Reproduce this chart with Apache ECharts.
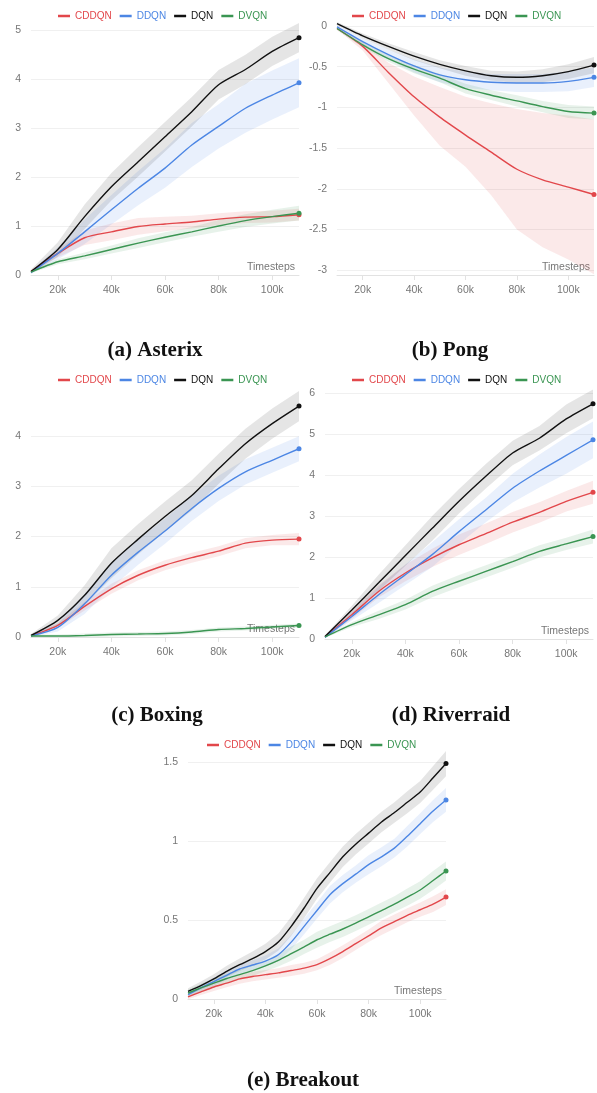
<!DOCTYPE html>
<html><head><meta charset="utf-8">
<script src="https://cdn.jsdelivr.net/npm/echarts@6/dist/echarts.min.js"></script>
<style>html,body{margin:0;padding:0;background:#fff}#c{width:597px;height:1093px}</style>
</head><body><div id="c"></div>
<script>
const methods = ['CDDQN', 'DDQN', 'DQN', 'DVQN'];
const xTickValues = [20000, 40000, 60000, 80000, 100000];
const steps = [10000, 20000, 30000, 40000, 50000, 60000, 70000, 80000, 90000, 100000, 110000];
const breakoutSteps = [10000, 15000, 20000, 25000, 30000, 35000, 40000, 45000, 50000, 55000, 60000,
  65000, 70000, 75000, 80000, 85000, 90000, 95000, 100000, 105000, 110000];

// (a) Asterix
const asterixYTicks = [0, 1, 2, 3, 4, 5];
const asterixCDDQN = [0.07, 0.44, 0.76, 0.88, 0.99, 1.04, 1.08, 1.14, 1.18, 1.19, 1.23];
const asterixCDDQNSpread = [0.03, 0.08, 0.15, 0.17, 0.17, 0.15, 0.13, 0.12, 0.12, 0.12, 0.12];
const asterixDDQN = [0.05, 0.44, 0.88, 1.33, 1.77, 2.18, 2.65, 3.03, 3.40, 3.67, 3.92];
const asterixDDQNSpread = [0.03, 0.12, 0.25, 0.3, 0.35, 0.4, 0.45, 0.45, 0.5, 0.5, 0.5];
const asterixDQN = [0.07, 0.52, 1.19, 1.80, 2.31, 2.82, 3.33, 3.88, 4.19, 4.56, 4.84];
const asterixDQNSpread = [0.04, 0.15, 0.25, 0.28, 0.3, 0.3, 0.3, 0.3, 0.3, 0.3, 0.3];
const asterixDVQN = [0.06, 0.27, 0.39, 0.52, 0.65, 0.77, 0.88, 1.0, 1.11, 1.19, 1.26];
const asterixDVQNSpread = [0.02, 0.05, 0.07, 0.08, 0.1, 0.1, 0.1, 0.12, 0.13, 0.14, 0.15];

// (b) Pong
const pongYTicks = [-3, -2.5, -2, -1.5, -1, -0.5, 0];
const pongCDDQN = [-0.03, -0.25, -0.57, -0.87, -1.12, -1.34, -1.55, -1.76, -1.89, -1.98, -2.07];
const pongCDDQNLow = [-0.04, -0.3, -0.7, -1.1, -1.47, -1.73, -2.08, -2.5, -2.72, -2.87, -3.05];
const pongCDDQNHigh = [-0.02, -0.2, -0.45, -0.62, -0.75, -0.87, -0.95, -1.02, -1.07, -1.1, -1.15];
const pongDDQN = [-0.01, -0.19, -0.35, -0.49, -0.60, -0.66, -0.69, -0.70, -0.70, -0.68, -0.63];
const pongDDQNSpread = [0.02, 0.04, 0.06, 0.08, 0.09, 0.1, 0.1, 0.11, 0.11, 0.12, 0.12];
const pongDQN = [0.03, -0.12, -0.25, -0.37, -0.47, -0.55, -0.61, -0.63, -0.61, -0.56, -0.48];
const pongDQNSpread = [0.02, 0.03, 0.04, 0.05, 0.05, 0.06, 0.06, 0.07, 0.08, 0.09, 0.1];
const pongDVQN = [-0.03, -0.23, -0.40, -0.53, -0.64, -0.77, -0.85, -0.92, -0.99, -1.05, -1.07];
const pongDVQNSpread = [0.02, 0.03, 0.04, 0.05, 0.05, 0.06, 0.06, 0.07, 0.07, 0.08, 0.08];

// (c) Boxing
const boxingYTicks = [0, 1, 2, 3, 4];
const boxingCDDQN = [0.02, 0.23, 0.61, 0.96, 1.23, 1.43, 1.58, 1.71, 1.87, 1.93, 1.95];
const boxingCDDQNSpread = [0.02, 0.05, 0.08, 0.1, 0.1, 0.1, 0.1, 0.1, 0.1, 0.1, 0.12];
const boxingDDQN = [0.02, 0.19, 0.66, 1.23, 1.69, 2.11, 2.56, 2.96, 3.29, 3.52, 3.75];
const boxingDDQNSpread = [0.02, 0.08, 0.2, 0.25, 0.25, 0.25, 0.25, 0.25, 0.25, 0.25, 0.25];
const boxingDQN = [0.03, 0.33, 0.83, 1.47, 1.95, 2.40, 2.82, 3.35, 3.85, 4.25, 4.60];
const boxingDQNSpread = [0.03, 0.1, 0.2, 0.3, 0.3, 0.3, 0.3, 0.3, 0.3, 0.3, 0.3];
const boxingDVQN = [0.02, 0.02, 0.03, 0.05, 0.06, 0.07, 0.10, 0.15, 0.17, 0.20, 0.23];
const boxingDVQNSpread = [0.03, 0.03, 0.04, 0.04, 0.04, 0.04, 0.04, 0.04, 0.04, 0.04, 0.04];

// (d) Riverraid
const riverraidYTicks = [0, 1, 2, 3, 4, 5, 6];
const riverraidCDDQN = [0.05, 0.59, 1.16, 1.61, 1.98, 2.30, 2.57, 2.85, 3.09, 3.36, 3.58];
const riverraidCDDQNSpread = [0.03, 0.1, 0.15, 0.2, 0.22, 0.25, 0.25, 0.25, 0.25, 0.25, 0.28];
const riverraidDDQN = [0.04, 0.55, 1.08, 1.57, 2.06, 2.62, 3.15, 3.68, 4.10, 4.48, 4.86];
const riverraidDDQNSpread = [0.02, 0.1, 0.2, 0.25, 0.3, 0.3, 0.3, 0.35, 0.4, 0.45, 0.45];
const riverraidDQN = [0.06, 0.71, 1.37, 2.04, 2.70, 3.36, 3.97, 4.54, 4.90, 5.37, 5.74];
const riverraidDQNSpread = [0.03, 0.1, 0.2, 0.25, 0.3, 0.3, 0.3, 0.3, 0.3, 0.35, 0.35];
const riverraidDVQN = [0.05, 0.35, 0.59, 0.84, 1.16, 1.41, 1.65, 1.89, 2.14, 2.32, 2.50];
const riverraidDVQNSpread = [0.02, 0.06, 0.1, 0.12, 0.14, 0.15, 0.15, 0.15, 0.15, 0.15, 0.17];

// (e) Breakout
const breakoutYTicks = [0, 0.5, 1, 1.5];
const breakoutCDDQN = [0.013, 0.045, 0.076, 0.10, 0.127, 0.142, 0.154, 0.165, 0.18, 0.195, 0.217,
  0.255, 0.30, 0.35, 0.40, 0.45, 0.49, 0.53, 0.565, 0.60, 0.645];
const breakoutCDDQNSpread = [0.015, 0.02, 0.025, 0.025, 0.03, 0.03, 0.03, 0.03, 0.035, 0.035, 0.035,
  0.04, 0.04, 0.04, 0.04, 0.045, 0.045, 0.045, 0.045, 0.05, 0.05];
const breakoutDDQN = [0.027, 0.07, 0.11, 0.15, 0.19, 0.215, 0.24, 0.28, 0.36, 0.46, 0.56,
  0.66, 0.73, 0.79, 0.85, 0.90, 0.955, 1.03, 1.11, 1.19, 1.26];
const breakoutDDQNSpread = [0.015, 0.02, 0.025, 0.03, 0.03, 0.03, 0.035, 0.04, 0.045, 0.05, 0.05,
  0.055, 0.055, 0.055, 0.06, 0.06, 0.06, 0.065, 0.065, 0.07, 0.075];
const breakoutDQN = [0.048, 0.085, 0.127, 0.175, 0.217, 0.255, 0.30, 0.36, 0.46, 0.576, 0.70,
  0.80, 0.90, 0.98, 1.05, 1.12, 1.18, 1.245, 1.31, 1.40, 1.49];
const breakoutDQNSpread = [0.02, 0.025, 0.03, 0.035, 0.04, 0.045, 0.05, 0.055, 0.06, 0.065, 0.065,
  0.065, 0.065, 0.065, 0.065, 0.065, 0.065, 0.07, 0.07, 0.075, 0.08];
const breakoutDVQN = [0.038, 0.07, 0.10, 0.13, 0.154, 0.18, 0.21, 0.245, 0.287, 0.33, 0.375,
  0.41, 0.443, 0.48, 0.52, 0.56, 0.60, 0.645, 0.69, 0.75, 0.81];
const breakoutDVQNSpread = [0.02, 0.025, 0.03, 0.03, 0.03, 0.035, 0.035, 0.04, 0.045, 0.045, 0.05,
  0.05, 0.05, 0.05, 0.05, 0.05, 0.05, 0.055, 0.055, 0.06, 0.06];

// ---- styling / layout ----
const colors = { CDDQN: '#e2474b', DDQN: '#4c86e4', DQN: '#111111', DVQN: '#3a9552' };
const bandColors = {
  CDDQN: 'rgba(226,71,75,0.12)', DDQN: 'rgba(76,134,228,0.12)',
  DQN: 'rgba(0,0,0,0.10)', DVQN: 'rgba(58,149,82,0.12)'
};
const sansFont = "'Liberation Sans', Arial, sans-serif";
const serifFont = "'Liberation Serif', 'DejaVu Serif', serif";

const sym = (mean, spread) => ({ mean, low: mean.map((v, j) => v - spread[j]), high: mean.map((v, j) => v + spread[j]) });

const panels = [
  { caption: '(a) Asterix', cx: 155, cy: 351, steps, yTicks: asterixYTicks, yMin: 0, yMax: 5.2,
    grid: { left: 31, top: 20, width: 268, height: 255 }, legend: { left: 53, top: 6 },
    data: { CDDQN: sym(asterixCDDQN, asterixCDDQNSpread), DDQN: sym(asterixDDQN, asterixDDQNSpread),
            DQN: sym(asterixDQN, asterixDQNSpread), DVQN: sym(asterixDVQN, asterixDVQNSpread) } },
  { caption: '(b) Pong', cx: 450, cy: 351, steps, yTicks: pongYTicks, yMin: -3.06, yMax: 0.05,
    grid: { left: 337, top: 22, width: 257, height: 253 }, legend: { left: 347, top: 6 },
    data: { CDDQN: { mean: pongCDDQN, low: pongCDDQNLow, high: pongCDDQNHigh }, DDQN: sym(pongDDQN, pongDDQNSpread),
            DQN: sym(pongDQN, pongDQNSpread), DVQN: sym(pongDVQN, pongDVQNSpread) } },
  { caption: '(c) Boxing', cx: 157, cy: 716, steps, yTicks: boxingYTicks, yMin: 0, yMax: 4.98,
    grid: { left: 31, top: 387, width: 268, height: 250 }, legend: { left: 53, top: 370 },
    data: { CDDQN: sym(boxingCDDQN, boxingCDDQNSpread), DDQN: sym(boxingDDQN, boxingDDQNSpread),
            DQN: sym(boxingDQN, boxingDQNSpread), DVQN: sym(boxingDVQN, boxingDVQNSpread) } },
  { caption: '(d) Riverraid', cx: 451, cy: 716, steps, yTicks: riverraidYTicks, yMin: 0, yMax: 6.15,
    grid: { left: 325, top: 387, width: 268, height: 252 }, legend: { left: 347, top: 370 },
    data: { CDDQN: sym(riverraidCDDQN, riverraidCDDQNSpread), DDQN: sym(riverraidDDQN, riverraidDDQNSpread),
            DQN: sym(riverraidDQN, riverraidDQNSpread), DVQN: sym(riverraidDVQN, riverraidDVQNSpread) } },
  { caption: '(e) Breakout', cx: 303, cy: 1081, steps: breakoutSteps, yTicks: breakoutYTicks, yMin: 0, yMax: 1.576,
    grid: { left: 188, top: 750, width: 258, height: 249 }, legend: { left: 202, top: 735 },
    data: { CDDQN: sym(breakoutCDDQN, breakoutCDDQNSpread), DDQN: sym(breakoutDDQN, breakoutDDQNSpread),
            DQN: sym(breakoutDQN, breakoutDQNSpread), DVQN: sym(breakoutDVQN, breakoutDVQNSpread) } }
];

const option = { animation: false, backgroundColor: '#fff', grid: [], xAxis: [], yAxis: [], legend: [], series: [], graphic: [] };

panels.forEach((p, i) => {
  option.grid.push(Object.assign({ containLabel: false }, p.grid));
  option.xAxis.push({
    type: 'value', gridIndex: i, min: 10000, max: 110000,
    axisLine: { onZero: false, lineStyle: { color: '#e2e2e2', width: 1 } },
    axisTick: { show: true, customValues: xTickValues, length: 5, lineStyle: { color: '#e2e2e2' } },
    axisLabel: { customValues: xTickValues, formatter: v => (v / 1000) + 'k', color: '#777', fontSize: 10.5, margin: 10, fontFamily: sansFont },
    splitLine: { show: false },
    name: 'Timesteps', nameLocation: 'end', nameGap: -4,
    nameTextStyle: { align: 'right', verticalAlign: 'bottom', color: '#777', fontSize: 10.5, fontFamily: sansFont, padding: [0, 0, 2, 0] }
  });
  option.yAxis.push({
    type: 'value', gridIndex: i, min: p.yMin, max: p.yMax,
    axisLine: { show: false },
    axisTick: { show: false, customValues: p.yTicks },
    axisLabel: { customValues: p.yTicks, color: '#777', fontSize: 10.5, margin: 10, fontFamily: sansFont },
    splitLine: { show: true, lineStyle: { color: '#f0f0f0', width: 1 } }
  });
  option.legend.push({
    left: p.legend.left, top: p.legend.top, icon: 'rect', itemWidth: 12, itemHeight: 2.5, itemGap: 8,
    selectedMode: false, textStyle: { fontSize: 10, fontFamily: sansFont },
    data: methods.map(m => ({ name: m, textStyle: { color: colors[m] } }))
  });
  // shaded bands (drawn through the axes' coordinate system)
  methods.forEach(m => {
    const d = p.data[m];
    option.series.push({
      type: 'custom', name: m + ' band', xAxisIndex: i, yAxisIndex: i, silent: true, z: 1, clip: true,
      data: p.steps.map((x, j) => [x, d.low[j], d.high[j]]),
      encode: { x: 0, y: [1, 2] },
      renderItem: (params, api) => {
        if (params.dataIndex !== 0) return null;
        const top = p.steps.map((x, j) => api.coord([x, d.high[j]]));
        const bot = p.steps.map((x, j) => api.coord([x, d.low[j]])).reverse();
        return { type: 'polygon', shape: { points: top.concat(bot), smooth: 0 }, style: { fill: bandColors[m] } };
      }
    });
  });
  // mean lines
  methods.forEach(m => {
    const d = p.data[m];
    const last = p.steps.length - 1;
    option.series.push({
      type: 'line', name: m, xAxisIndex: i, yAxisIndex: i, smooth: 0.25, symbol: 'none', showSymbol: true,
      data: p.steps.map((x, j) => j === last ? { value: [x, d.mean[j]], symbol: 'circle', symbolSize: 5 } : [x, d.mean[j]]),
      lineStyle: { width: 1.4, color: colors[m] }, itemStyle: { color: colors[m] }, z: 3
    });
  });
  option.graphic.push({
    type: 'text', x: p.cx, y: p.cy,
    style: { text: p.caption, align: 'center', verticalAlign: 'middle', font: 'bold 21px ' + serifFont, fill: '#111' }
  });
});

const chart = echarts.init(document.getElementById('c'), null, { renderer: 'canvas' });
chart.setOption(option);
</script>
</body></html>
